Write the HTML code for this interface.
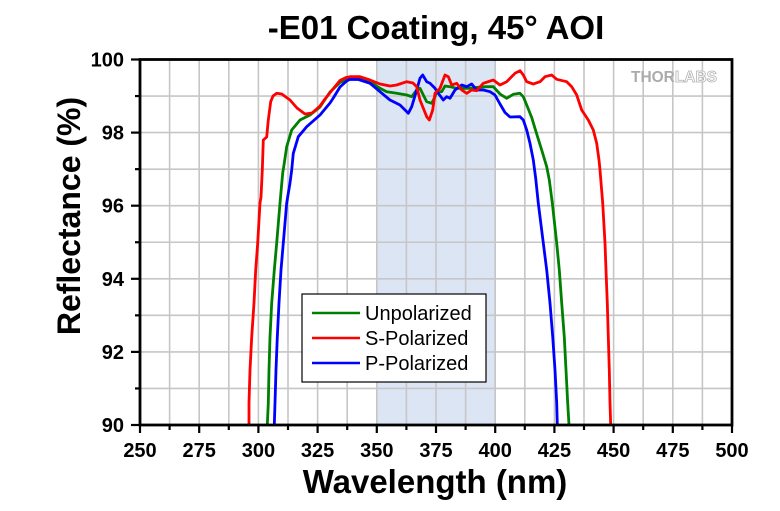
<!DOCTYPE html>
<html>
<head>
<meta charset="utf-8">
<style>
  html, body { margin: 0; padding: 0; background: #ffffff; }
  svg { display: block; }
  text { font-family: "Liberation Sans", Arial, sans-serif; }
</style>
</head>
<body>
<svg width="780" height="511" viewBox="0 0 780 511" xmlns="http://www.w3.org/2000/svg">
  <rect x="0" y="0" width="780" height="511" fill="#ffffff"/>

  <!-- Title -->
  <text x="436" y="39" font-size="33" font-weight="bold" text-anchor="middle" fill="#000">-E01 Coating, 45° AOI</text>

  <!-- shaded band 350-400 nm -->
  <rect x="376.8" y="59.5" width="118.4" height="365.5" fill="#dce5f4"/>

  <!-- grid -->
  <g stroke="#c6c6c6" stroke-width="1.6" fill="none">
    <line x1="169.6" y1="59.5" x2="169.6" y2="425"/>
    <line x1="199.2" y1="59.5" x2="199.2" y2="425"/>
    <line x1="228.8" y1="59.5" x2="228.8" y2="425"/>
    <line x1="258.4" y1="59.5" x2="258.4" y2="425"/>
    <line x1="288.0" y1="59.5" x2="288.0" y2="425"/>
    <line x1="317.6" y1="59.5" x2="317.6" y2="425"/>
    <line x1="347.2" y1="59.5" x2="347.2" y2="425"/>
    <line x1="376.8" y1="59.5" x2="376.8" y2="425"/>
    <line x1="406.4" y1="59.5" x2="406.4" y2="425"/>
    <line x1="436.0" y1="59.5" x2="436.0" y2="425"/>
    <line x1="465.6" y1="59.5" x2="465.6" y2="425"/>
    <line x1="495.2" y1="59.5" x2="495.2" y2="425"/>
    <line x1="524.8" y1="59.5" x2="524.8" y2="425"/>
    <line x1="554.4" y1="59.5" x2="554.4" y2="425"/>
    <line x1="584.0" y1="59.5" x2="584.0" y2="425"/>
    <line x1="613.6" y1="59.5" x2="613.6" y2="425"/>
    <line x1="643.2" y1="59.5" x2="643.2" y2="425"/>
    <line x1="672.8" y1="59.5" x2="672.8" y2="425"/>
    <line x1="702.4" y1="59.5" x2="702.4" y2="425"/>
    <line x1="140" y1="96.05" x2="732" y2="96.05"/>
    <line x1="140" y1="132.6" x2="732" y2="132.6"/>
    <line x1="140" y1="169.15" x2="732" y2="169.15"/>
    <line x1="140" y1="205.7" x2="732" y2="205.7"/>
    <line x1="140" y1="242.25" x2="732" y2="242.25"/>
    <line x1="140" y1="278.8" x2="732" y2="278.8"/>
    <line x1="140" y1="315.35" x2="732" y2="315.35"/>
    <line x1="140" y1="351.9" x2="732" y2="351.9"/>
    <line x1="140" y1="388.45" x2="732" y2="388.45"/>
  </g>

  <!-- THORLABS logo -->
  <text x="631" y="82" font-size="16" font-weight="bold" textLength="86" lengthAdjust="spacingAndGlyphs"><tspan fill="#ababab">THOR</tspan><tspan fill="#ffffff" stroke="#b0b0b0" stroke-width="0.8">LABS</tspan></text>

  <!-- curves -->
  <defs>
    <clipPath id="plotclip"><rect x="140" y="59.5" width="592" height="365.5"/></clipPath>
  </defs>
  <g clip-path="url(#plotclip)" fill="none" stroke-width="2.8" stroke-linejoin="round" stroke-linecap="round">
    <polyline stroke="#008000" points="267.3,428 267.3,425 268.3,403 269,370 270,337 271.7,303 274.3,270 276.7,243 280,203 282.7,173 284,165 286.7,146.7 291.7,130 300,120 310,115 320,107 330,92 340,82.5 350,78 360,78.3 370,81.7 380,88.3 386.7,91.7 396.7,93.3 406.7,95 411.7,96.7 416.7,90 420,88.3 423.3,95 426.7,101.7 431.7,103.3 435,96.7 436.7,91.7 441.7,91.7 445,86 450,86.7 456.7,88.3 463.3,88.3 470,88.3 478.3,87.3 486.7,86.7 493.3,86.7 500,94 506.7,98.3 513.3,94.3 520,93.3 523.3,96.7 526.7,105 531.7,117.5 536.7,134 541.7,150 546.7,166.7 549.3,180 552.3,203 556.7,243 559.3,270 561.7,303 564.3,337 566,370 567.7,403 569,425 569,428"/>
    <polyline stroke="#0000ff" points="274.3,428 274.3,425 275,403 276,370 277.3,337 279,303 281,270 283.3,243 286.7,203 290,183 291.7,170 293.3,153.3 298.3,136.7 306.7,126.7 320,115 330,103 333.3,98 340,87 346.7,81 350,79.3 358,79.5 360,80 370,83.3 380,91.7 390,100 400,105 408.3,113.3 411.7,106.7 416.7,90 420,78.3 422.7,75 426.7,81.7 430,83.3 435,88.3 438.3,93.3 443.3,100 446.7,96.7 450,98.3 455,90 461.7,85 466.7,86.7 471.7,84 476.7,90 483.3,90 490,91.7 495,95 500,104 505,112.5 510,117 520,116.7 523.3,120 526.7,130 530,143.3 533.3,160 535.7,178.3 538.3,203.3 543.3,243 546.7,270 550,303 552.7,336.7 555,370 556.7,403 557.3,425 557.3,428"/>
    <polyline stroke="#ff0000" points="249,428 249,425 249,403 250,370 251.7,337 254,303 255.7,270 257.7,243 260,203 261,197 262.3,170 263.3,140 266.7,137 268.3,120 270.7,101.7 273,96 276.7,93.3 281.7,94 290,100 297,108 305,114 312,113 320,106 325,99 333,89 340,80.5 346,77.5 350,76.7 360,76.7 370,80 380,84 390,86 396.7,85 406.7,81.7 413,83 416.7,86.7 420,100 426.7,116.7 429.3,120 432.7,110 435,93.3 440,88.3 445,75 448.3,76.7 451.7,85 456.7,83.3 461.7,90 466.7,93.3 471.7,90 476.7,90.7 483.3,83.3 493.3,80 500,85 506.7,81.7 515,73.3 520,70.7 523.3,75 526.7,81.7 533.3,84 540,81.7 545,76.7 551.7,75 556.7,79.3 566.7,81.7 571.7,86.7 576.7,95 581.7,110 588.3,120 593.3,130 596.7,143.3 599,160 600,170 602.7,203 605,243 606,270 607.3,303 608.3,337 609.3,370 610,403 610.7,425 610.7,428"/>
  </g>

  <!-- axes frame -->
  <rect x="140" y="59.5" width="592" height="365.5" fill="none" stroke="#000" stroke-width="2.8"/>

  <!-- ticks -->
  <g stroke="#000" stroke-width="2.2">
    <!-- y major -->
    <line x1="131" y1="59.5" x2="140" y2="59.5"/>
    <line x1="131" y1="132.6" x2="140" y2="132.6"/>
    <line x1="131" y1="205.7" x2="140" y2="205.7"/>
    <line x1="131" y1="278.8" x2="140" y2="278.8"/>
    <line x1="131" y1="351.9" x2="140" y2="351.9"/>
    <line x1="131" y1="425" x2="140" y2="425"/>
    <!-- y minor -->
    <line x1="135" y1="96.05" x2="140" y2="96.05"/>
    <line x1="135" y1="169.15" x2="140" y2="169.15"/>
    <line x1="135" y1="242.25" x2="140" y2="242.25"/>
    <line x1="135" y1="315.35" x2="140" y2="315.35"/>
    <line x1="135" y1="388.45" x2="140" y2="388.45"/>
    <!-- x major -->
    <line x1="140" y1="425" x2="140" y2="433"/>
    <line x1="199.2" y1="425" x2="199.2" y2="433"/>
    <line x1="258.4" y1="425" x2="258.4" y2="433"/>
    <line x1="317.6" y1="425" x2="317.6" y2="433"/>
    <line x1="376.8" y1="425" x2="376.8" y2="433"/>
    <line x1="436.0" y1="425" x2="436.0" y2="433"/>
    <line x1="495.2" y1="425" x2="495.2" y2="433"/>
    <line x1="554.4" y1="425" x2="554.4" y2="433"/>
    <line x1="613.6" y1="425" x2="613.6" y2="433"/>
    <line x1="672.8" y1="425" x2="672.8" y2="433"/>
    <line x1="732" y1="425" x2="732" y2="433"/>
    <!-- x minor -->
    <line x1="169.6" y1="425" x2="169.6" y2="430"/>
    <line x1="228.8" y1="425" x2="228.8" y2="430"/>
    <line x1="288.0" y1="425" x2="288.0" y2="430"/>
    <line x1="347.2" y1="425" x2="347.2" y2="430"/>
    <line x1="406.4" y1="425" x2="406.4" y2="430"/>
    <line x1="465.6" y1="425" x2="465.6" y2="430"/>
    <line x1="524.8" y1="425" x2="524.8" y2="430"/>
    <line x1="584.0" y1="425" x2="584.0" y2="430"/>
    <line x1="643.2" y1="425" x2="643.2" y2="430"/>
    <line x1="702.4" y1="425" x2="702.4" y2="430"/>
  </g>

  <!-- y tick labels -->
  <g font-size="20" font-weight="bold" text-anchor="end" fill="#000">
    <text x="124" y="66.5">100</text>
    <text x="124" y="139.6">98</text>
    <text x="124" y="212.7">96</text>
    <text x="124" y="285.8">94</text>
    <text x="124" y="358.9">92</text>
    <text x="124" y="432">90</text>
  </g>

  <!-- x tick labels -->
  <g font-size="20" font-weight="bold" text-anchor="middle" fill="#000">
    <text x="140" y="457">250</text>
    <text x="199.2" y="457">275</text>
    <text x="258.4" y="457">300</text>
    <text x="317.6" y="457">325</text>
    <text x="376.8" y="457">350</text>
    <text x="436.0" y="457">375</text>
    <text x="495.2" y="457">400</text>
    <text x="554.4" y="457">425</text>
    <text x="613.6" y="457">450</text>
    <text x="672.8" y="457">475</text>
    <text x="732" y="457">500</text>
  </g>

  <!-- axis titles -->
  <text x="435" y="493" font-size="33" font-weight="bold" text-anchor="middle" fill="#000">Wavelength (nm)</text>
  <text transform="translate(80,216) rotate(-90)" x="0" y="0" font-size="32" font-weight="bold" text-anchor="middle" fill="#000">Reflectance (%)</text>

  <!-- legend -->
  <rect x="302" y="294" width="184" height="88" fill="#ffffff" stroke="#000" stroke-width="1.2"/>
  <line x1="312" y1="313" x2="360" y2="313" stroke="#008000" stroke-width="2.4"/>
  <line x1="312" y1="338" x2="360" y2="338" stroke="#ff0000" stroke-width="2.4"/>
  <line x1="312" y1="363" x2="360" y2="363" stroke="#0000ff" stroke-width="2.4"/>
  <g font-size="20" fill="#000">
    <text x="365" y="320">Unpolarized</text>
    <text x="365" y="345">S-Polarized</text>
    <text x="365" y="370">P-Polarized</text>
  </g>
</svg>
</body>
</html>
